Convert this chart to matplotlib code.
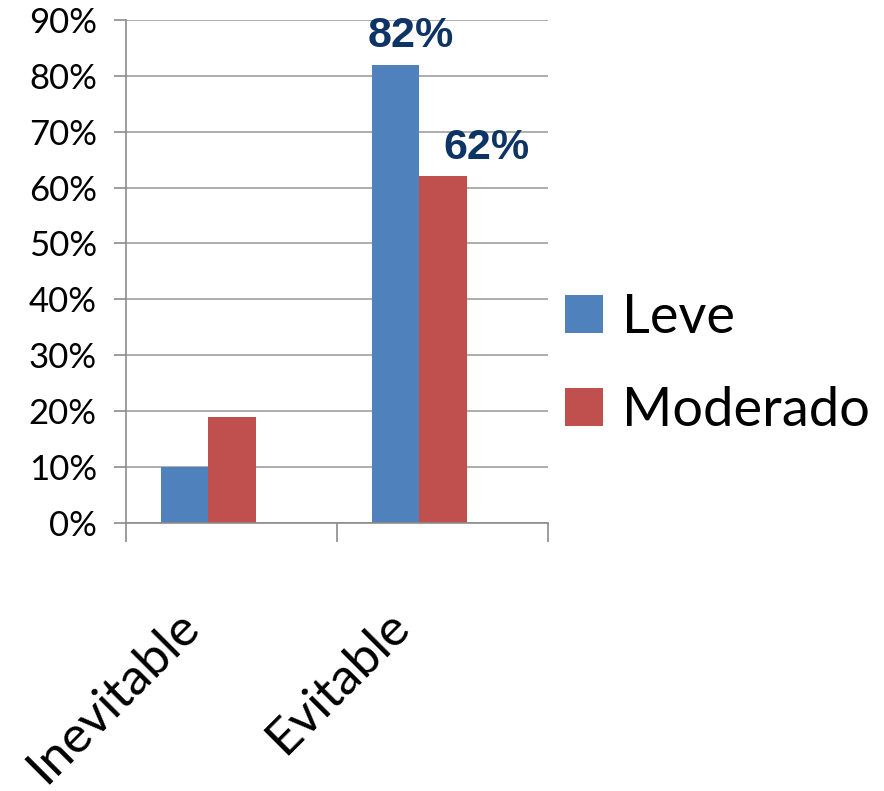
import matplotlib.pyplot as plt
import matplotlib.transforms as mtransforms
import numpy as np

categorias = ["Inevitable", "Evitable"]
series = ["Leve", "Moderado"]
leve = [0.10, 0.82]
moderado = [0.19, 0.62]
etiquetas_leve = [None, "82%"]
etiquetas_moderado = [None, "62%"]

colores = ["#4F81BD", "#C0504D"]
gris = "#8c8c8c"
azul_oscuro = "#0E3466"

fig = plt.figure(figsize=(8.84, 7.91), dpi=100)
ax = fig.add_axes([126 / 884, 1 - 522.7 / 791, (548 - 126) / 884, (522.7 - 20) / 791])

x = np.arange(len(categorias))
w = 0.225
shift = -0.11  # bars sit a bit left of the category centre
b1 = ax.bar(x + shift - w / 2, leve, w, color=colores[0], label=series[0])
b2 = ax.bar(x + shift + w / 2, moderado, w, color=colores[1], label=series[1])

# data labels
for rect, lab in zip(b1, etiquetas_leve):
    if lab:
        ax.annotate(lab, (rect.get_x() + rect.get_width() / 2, rect.get_height()),
                    xytext=(11, 6), textcoords="offset points", ha="center", va="bottom",
                    fontsize=31, fontweight="bold", color=azul_oscuro, family="Liberation Sans")
for rect, lab in zip(b2, etiquetas_moderado):
    if lab:
        ax.annotate(lab, (rect.get_x() + rect.get_width() / 2, rect.get_height()),
                    xytext=(31, 6), textcoords="offset points", ha="center", va="bottom",
                    fontsize=31, fontweight="bold", color=azul_oscuro, family="Liberation Sans")

ax.set_xlim(-0.5, len(categorias) - 0.5)
ax.set_ylim(0, 0.9)
ax.set_yticks(np.arange(0, 0.91, 0.1))
ax.set_yticklabels([f"{int(round(v * 100))}%" for v in np.arange(0, 0.91, 0.1)],
                   family="Lato", fontsize=25)
ax.yaxis.grid(True, color="#a0a0a0", linewidth=1.2)
ax.set_axisbelow(True)

ax.set_xticks(np.arange(-0.5, len(categorias), 1.0))
ax.set_xticklabels([])
ax.tick_params(axis="x", length=14, width=1.2, color=gris, direction="out")
ax.tick_params(axis="y", length=9, width=1.2, color=gris, direction="out", pad=12)

for s in ["top", "right"]:
    ax.spines[s].set_visible(False)
for s in ["left", "bottom"]:
    ax.spines[s].set_color(gris)
    ax.spines[s].set_linewidth(1.2)

# rotated category labels
off = mtransforms.ScaledTranslation(-24 / 100, -80 / 100, fig.dpi_scale_trans)
trans = mtransforms.blended_transform_factory(ax.transData, ax.transAxes) + off
for i, c in enumerate(categorias):
    ax.text(i, 0, c, transform=trans, rotation=45, ha="right", va="top",
            fontsize=37, family="Lato")

leg = ax.legend(loc="center left", bbox_to_anchor=(565 / 884, 1 - 364 / 791),
                bbox_transform=fig.transFigure, frameon=False,
                prop={"family": "Lato", "size": 39},
                handlelength=0.7, handleheight=0.7, handletextpad=0.35,
                labelspacing=0.8, borderaxespad=0, borderpad=0)

fig.savefig("out.png", dpi=100)
